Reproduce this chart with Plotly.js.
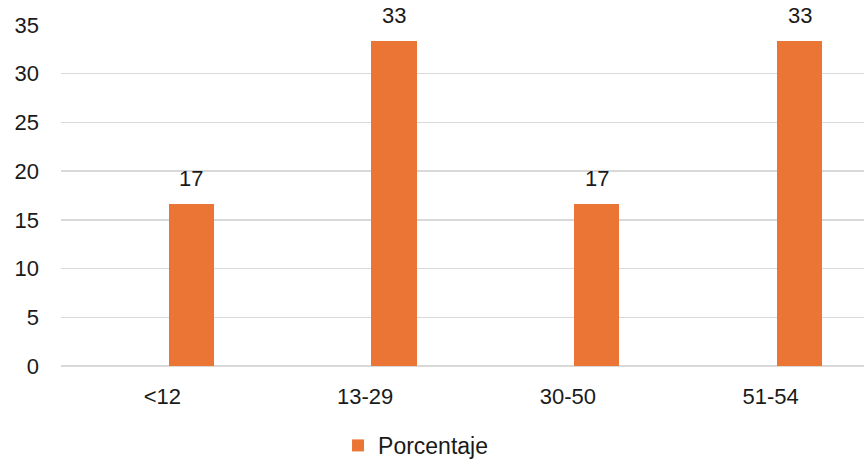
<!DOCTYPE html>
<html>
<head>
<meta charset="utf-8">
<script src="https://cdn.plot.ly/plotly-3.0.1.min.js"></script>
<style>html,body{margin:0;padding:0;overflow:hidden;background:#fff;}</style>
</head>
<body>
<div id="chart" style="width:864px;height:467px;"></div>
<script>
const categories = ["<12", "13-29", "30-50", "51-54"];
const porcentaje = [16.67, 33.33, 16.67, 33.33];
const seriesName = "Porcentaje";
const yTicks = [0, 5, 10, 15, 20, 25, 30, 35];

const FONT = "Liberation Sans, Arial, sans-serif";
const TXT = "#1a1a1a";

const trace = {
  type: "bar",
  x: categories,
  y: porcentaje,
  name: seriesName,
  width: 0.223,
  offset: 0.031,
  marker: {color: "#EB7535", line: {width: 0}},
  textposition: "none",
  hoverinfo: "skip",
  showlegend: true
};

const annotations = categories.map((c, i) => ({
  x: c, y: porcentaje[i], xref: "x", yref: "y",
  text: String(Math.round(porcentaje[i])),
  showarrow: false, yanchor: "bottom", xanchor: "center",
  xshift: 29, yshift: 11,
  font: {family: FONT, size: 22, color: TXT}
}));

const layout = {
  width: 864, height: 467,
  margin: {l: 61, r: 0, t: 25, b: 97, pad: 0},
  paper_bgcolor: "#fff", plot_bgcolor: "#fff",
  font: {family: FONT, size: 22, color: TXT},
  bargap: 0,
  xaxis: {
    type: "category",
    range: [-0.5, 3.4606],
    showgrid: false, zeroline: false, showline: false,
    ticks: "", ticklabelstandoff: 15,
    tickfont: {family: FONT, size: 22, color: TXT},
    fixedrange: true
  },
  yaxis: {
    range: [0, 35],
    tickvals: yTicks,
    showgrid: true, gridcolor: "#d9d9d9", gridwidth: 1.5,
    zeroline: true, zerolinecolor: "#d9d9d9", zerolinewidth: 1.5,
    showline: false, ticks: "", ticklabelstandoff: 21,
    tickfont: {family: FONT, size: 22, color: TXT},
    fixedrange: true
  },
  showlegend: true,
  legend: {
    orientation: "h", x: 0.345, xanchor: "left", y: -0.233, yanchor: "middle",
    font: {family: FONT, size: 23, color: TXT},
    bgcolor: "rgba(0,0,0,0)"
  },
  annotations: annotations
};

Plotly.newPlot("chart", [trace], layout, {displayModeBar: false, staticPlot: true});
</script>
</body>
</html>
